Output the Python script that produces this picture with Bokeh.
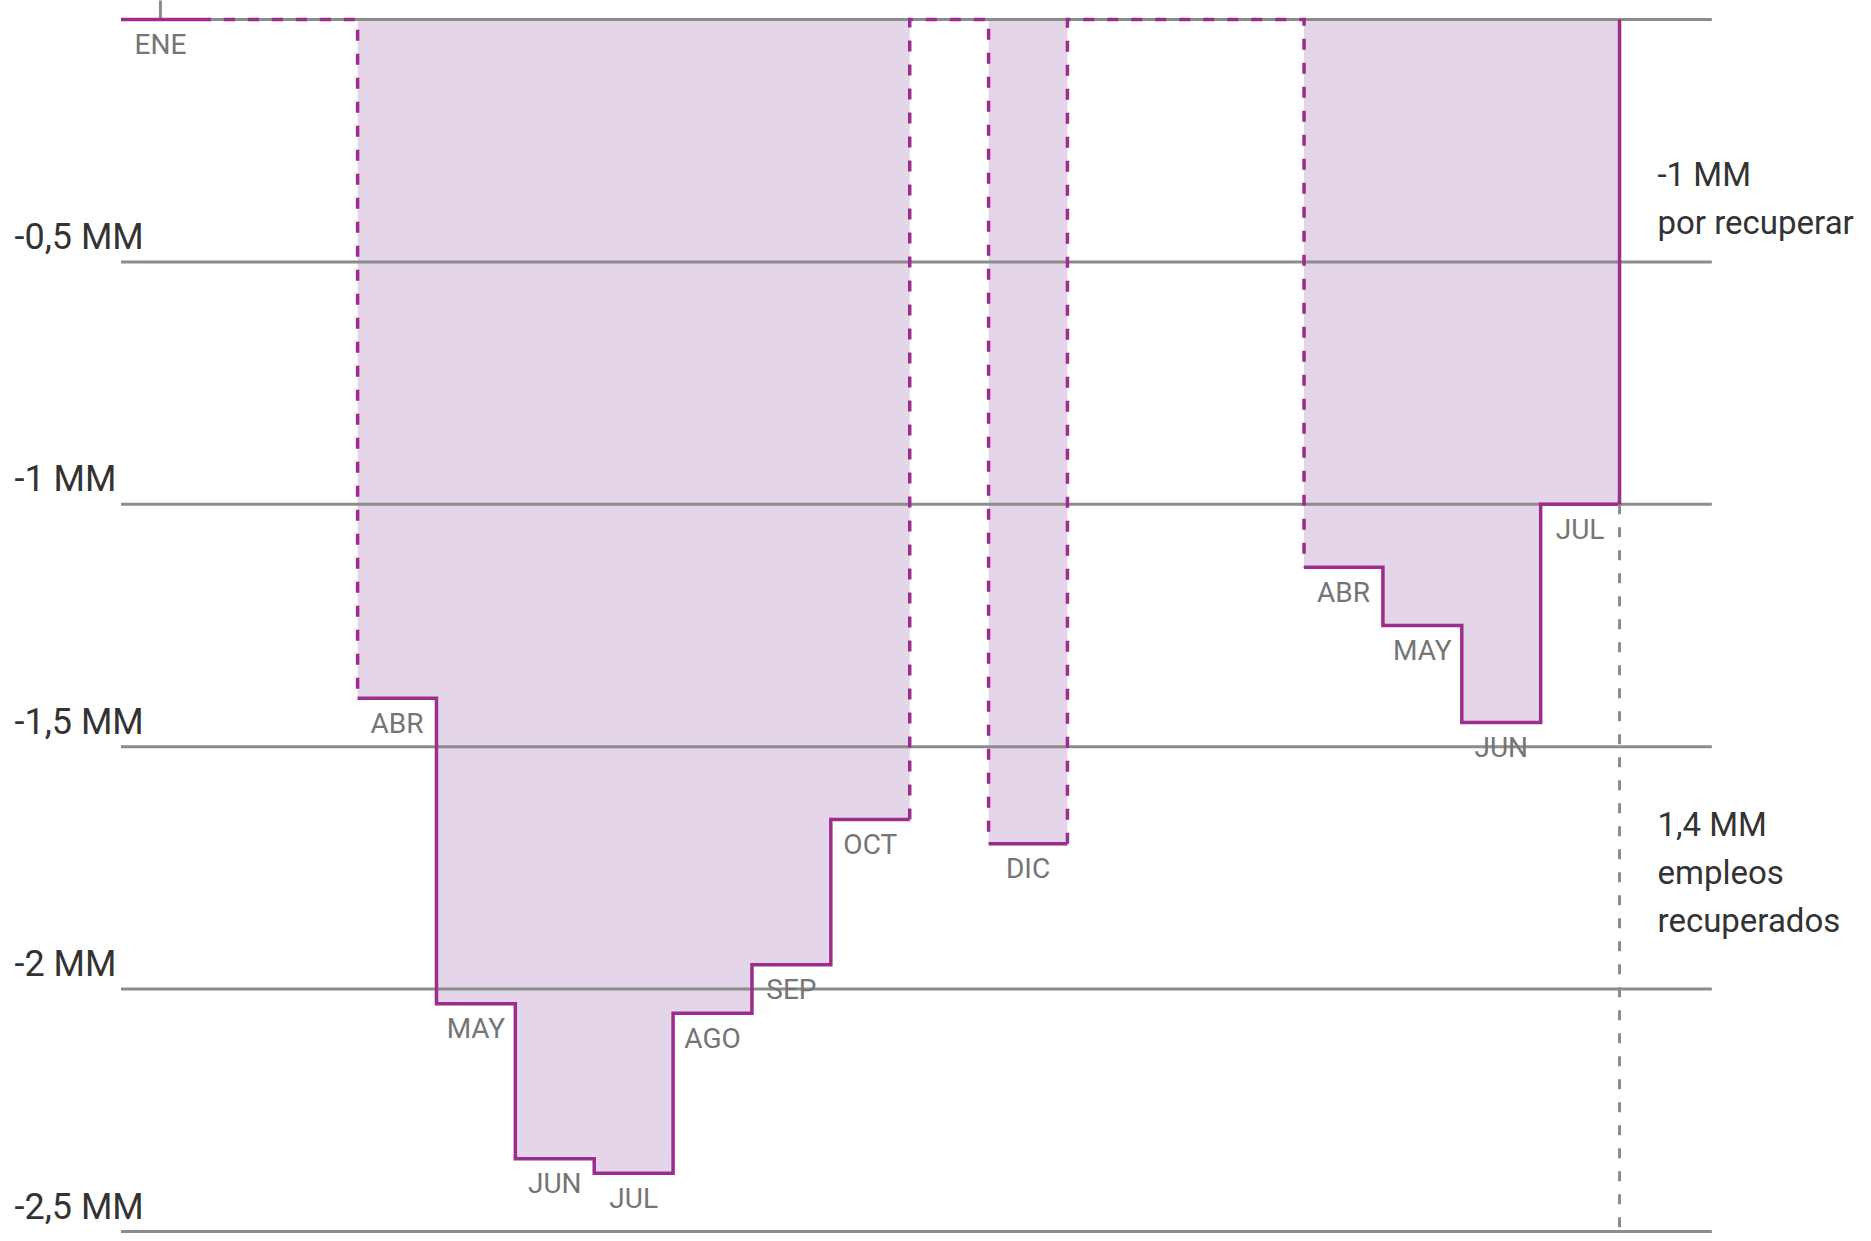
from bokeh.plotting import figure
from bokeh.models import Range1d, ColumnDataSource
from bokeh.embed import file_html
from bokeh.resources import INLINE
from bokeh.core.properties import value

# ---------------- data ----------------
months = ["ENE", "FEB", "MAR", "ABR", "MAY", "JUN", "JUL", "AGO", "SEP", "OCT",
          "NOV", "DIC", "ENE", "FEB", "MAR", "ABR", "MAY", "JUN", "JUL"]
# cumulative change in jobs vs. Jan 2020, millions (None = no data shown)
change = [0.0, None, None, -1.40, -2.03, -2.35, -2.38, -2.05, -1.95, -1.65,
          None, -1.70, None, None, None, -1.13, -1.25, -1.45, -1.00]
y_ticks = [0, -0.5, -1, -1.5, -2, -2.5]
y_labels = ["", "-0,5 MM", "-1 MM", "-1,5 MM", "-2 MM", "-2,5 MM"]
note_top = ["-1 MM", "por recuperar"]
note_bottom = ["1,4 MM", "empleos", "recuperados"]

# ---------------- layout ----------------
W, H = 1863, 1233
PX_X, X0 = 78.87, 120.5      # px per month, px of x=0
PX_Y, Y0 = 484.8, 19.0       # px per million, px of y=0
PURPLE = "#9b2d8c"
FILL = "#e5d5e9"
GRID = "#8c8c8c"
FONT = value("Roboto")

p = figure(width=W, height=H, output_backend="svg", toolbar_location=None,
           x_range=Range1d(-X0 / PX_X, (W - X0) / PX_X),
           y_range=Range1d(-(H - Y0) / PX_Y, Y0 / PX_Y),
           min_border=0)
p.axis.visible = False
p.grid.visible = False
p.outline_line_color = None
p.background_fill_color = "white"
p.border_fill_color = "white"

n = len(months)
data_idx = [k for k in range(n) if change[k] is not None]

# runs of consecutive months with data
runs = []
for k in data_idx:
    if runs and runs[-1][-1] == k - 1:
        runs[-1].append(k)
    else:
        runs.append([k])

def step_xy(run):
    xs, ys = [], []
    for k in run:
        xs += [k, k + 1]
        ys += [change[k], change[k]]
    return xs, ys

# fill (one polygon per run)
for run in runs:
    if all(change[k] == 0 for k in run):
        continue
    xs, ys = step_xy(run)
    xs = [run[0]] + xs + [run[-1] + 1]
    ys = [0] + ys + [0]
    p.patch(xs, ys, fill_color=FILL, line_color=None)

# gridlines
grid_end = 20.17
p.segment(x0=[0] * len(y_ticks), x1=[grid_end] * len(y_ticks), y0=y_ticks, y1=y_ticks,
          line_color=GRID, line_width=3)
# tick at first month
p.segment(x0=[0.5], x1=[0.5], y0=[0], y1=[0.2], line_color=GRID, line_width=3)

# solid step lines
for ri, run in enumerate(runs):
    xs, ys = step_xy(run)
    if ri == len(runs) - 1:
        xs.append(run[-1] + 1)
        ys.append(0)
    p.line(xs, ys, line_color=PURPLE, line_width=3.5, line_join="miter")

# dashed connectors through gaps
for a, b in zip(runs[:-1], runs[1:]):
    e, s = a[-1], b[0]
    xs = [e + 1, e + 1, s, s]
    ys = [change[e], 0, 0, change[s]]
    p.line(xs, ys, line_color=PURPLE, line_width=3.5, line_dash="11 13", line_join="miter")

# gray dashed drop line after last month
last = data_idx[-1]
p.line([last + 1, last + 1], [change[last], -2.7], line_color=GRID, line_width=3,
       line_dash="10 13")

# month labels
lab_off = 25 / PX_Y
src = ColumnDataSource(dict(x=[k + 0.5 for k in data_idx],
                            y=[change[k] - lab_off for k in data_idx],
                            t=[months[k] for k in data_idx]))
p.text(x="x", y="y", text="t", source=src, text_align="center", text_baseline="middle",
       text_font=FONT, text_font_size="28px", text_color="#757575")

# y labels
yl_src = ColumnDataSource(dict(x=[(14 - X0) / PX_X] * len(y_ticks),
                               y=[t + 25 / PX_Y for t in y_ticks], t=y_labels))
p.text(x="x", y="y", text="t", source=yl_src, text_align="left",
       text_baseline="middle", text_font=FONT, text_font_size="36px",
       text_color="#333333")

# notes on the right
nx = (1657 - X0) / PX_X
line_h = 48 / PX_Y
top_y0 = -(174 - Y0) / PX_Y
bot_y0 = -(824 - Y0) / PX_Y
p.text(x=[nx] * len(note_top), y=[top_y0 - i * line_h for i in range(len(note_top))],
       text=note_top, text_align="left", text_baseline="middle",
       text_font=FONT, text_font_size="33px", text_color="#333333")
p.text(x=[nx] * len(note_bottom), y=[bot_y0 - i * line_h for i in range(len(note_bottom))],
       text=note_bottom, text_align="left", text_baseline="middle",
       text_font=FONT, text_font_size="33px", text_color="#333333")

open("out.html", "w").write(file_html(p, INLINE))
